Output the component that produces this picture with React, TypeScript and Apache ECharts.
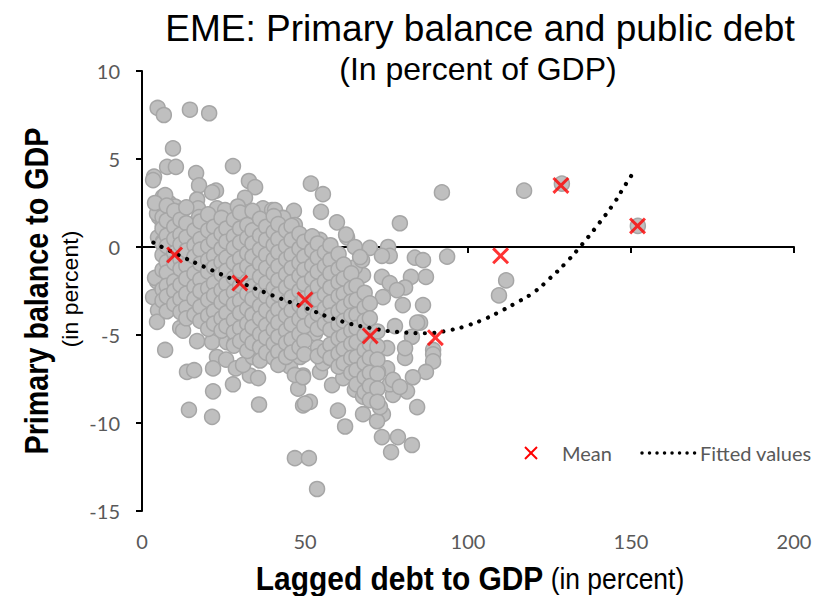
import { useEffect, useRef } from "react";
import * as echarts from "echarts";

// ---- Data ----
const xTickValues = [0, 50, 100, 150, 200];
const yTickValues = [-15, -10, -5, 0, 5, 10];

// Scattered country-year observations (lagged debt, primary balance)
const outlierObs: [number, number][] = [
  [4.8, 7.9], [6.7, 7.5], [14.7, 7.8], [20.6, 7.6], [9.5, 5.6], [7.7, 4.55], [10.4, 4.55], [3.7, 4.0],
  [16.6, 4.2], [17.5, 3.5], [22.7, 3.2], [27.9, 4.6], [32.8, 3.75], [34.7, 3.4], [31.6, 2.8], [4.3, 2.45],
  [6.4, 2.85], [8.3, 2.5], [10.1, 2.3], [12.6, 2.1], [16.9, 2.7], [17.2, 2.2], [5.2, 1.7], [6.4, 1.25],
  [10.7, 1.4], [14.7, 1.25], [17.5, 1.7], [23, 2.2], [25.5, 2.1], [29.4, 2.3], [31.6, 1.65], [37.1, 2.2],
  [39.9, 2.1], [21.5, 0.85], [23.3, 0.85], [21.5, 3.1],
  [51.8, 3.6], [55.5, 3.0], [54.9, 2.0], [59.8, 1.4], [79.1, 1.35], [92, 3.1], [46.6, 2.05], [40.8, 2.1],
  [43.3, 1.65], [46.9, 1.25], [51.2, 0.5], [54.6, 0.4], [62.9, 0.55], [62.6, 0.7], [65.3, 0], [69.9, -0.05],
  [75.5, 0], [76, -0.5], [73.6, -0.5], [83.7, -0.6], [86.2, -0.75], [87.1, -1.7], [82.5, -1.7], [80.7, -2.3],
  [86.2, -3.3], [80, -3.3], [73.9, -2.85], [73.6, -1.7], [76, -2.05], [67.8, -1.6], [65.3, -1.15],
  [61.3, -1.15], [67.5, -0.75], [66.9, -0.57], [78.2, -2.45],
  [117.2, 3.2], [128.8, 3.6], [152.1, 1.2], [93.6, -0.55], [111.7, -1.9], [109.5, -2.75], [85.3, -4.3],
  [89.3, -5.85],
  [84.4, -4.3], [77.6, -4.5], [82.8, -5.1], [80.7, -6.3], [89.3, -6.1], [89.3, -6.5], [87.1, -7.1],
  [83.1, -7.4], [81.3, -8.2], [84.4, -9.1], [77, -8.4], [75.2, -6.9], [76, -7.8], [73.9, -9.5],
  [82.8, -11.25], [78.5, -10.8], [76.4, -11.65], [73.6, -10.8], [72.1, -9.9], [67.8, -9.5], [62.3, -10.2],
  [60.1, -9.3], [53.7, -13.75], [46.9, -12], [51.2, -12], [51.5, -8.8], [49.4, -9.0], [47.9, -8.05],
  [58.3, -7.85], [61.7, -7.45], [63.8, -6.8], [60.1, -6.25], [45.4, -6.8], [49.4, -7.3], [65.3, -8.1],
  [67.8, -8.5], [70.9, -8.7], [73, -9.1], [67.5, -7.45], [69, -6.6], [70.6, -6.0], [72.4, -7.1],
  [77, -7.55], [79.1, -7.95], [75.2, -5.75], [80.7, -5.75], [59.8, -5.2], [54.6, -6.1], [57, -6.4],
  [48.5, -6.25], [53.1, -4.9], [46.9, -7.27], [49.4, -7.4], [50, -8.9], [54.6, -7.1], [55.5, -6.6],
  [57.7, -6.3], [60.7, -6.3], [63.2, -6.8], [54, -5.7],
  [3.4, -2.85], [4.9, -3.6], [4.6, -4.25], [7.1, -5.85], [11.7, -4.6], [12.6, -4.75], [16.9, -5.35],
  [21.5, -5.4], [23, -6.25], [25.8, -6.4], [21.8, -6.9], [13.8, -7.1], [16, -7.0], [21.8, -8.2],
  [27.9, -7.8], [28.8, -6.9], [14.4, -9.25], [21.5, -9.65], [35.9, -8.95], [33.1, -7.3], [35.6, -7.45],
  [31, -6.7], [26, -5.4], [28.5, -5.45], [34, -6.25],
  [4.6, -1.95], [4.0, -1.75], [4.9, 0.55], [6.4, 0.3], [4.6, 1.9], [7.1, 2.95], [4, 2.5], [3.4, 3.8],
  [16, -3.7],
];

// Dense core of the cloud, by debt column: [debt, balances]
const coreColumns: [number, number[]][] = [
  [6.3, [1.7, 1.05, 0.2, -0.45, -1.3, -2.4, -3.05]],
  [7.6, [2.35, 1.5, 0.65, 0.05, -0.85, -1.45, -2.2, -2.8, -3.65]],
  [9.9, [2.05, 1.15, 0.45, -0.35, -0.9, -1.95, -2.5, -3.25]],
  [11.8, [1.55, 0.7, 0.15, -0.7, -1.25, -2.15, -2.95, -3.7]],
  [13.6, [2.25, 1.35, 0.55, -0.2, -1.05, -1.8, -2.65, -3.45, -4.05]],
  [16.1, [0.95, 0.1, -0.55, -1.5, -2.25, -2.95, -3.85]],
  [17.9, [1.45, 0.45, -0.15, -0.95, -1.85, -2.5, -3.4, -4.2]],
  [20.3, [1.85, 0.95, 0.05, -0.75, -1.4, -2.35, -3.0, -3.9, -4.65]],
  [22.1, [1.15, 0.35, -0.5, -1.15, -2.05, -2.75, -3.65, -4.35]],
  [24.4, [1.65, 0.75, -0.1, -0.85, -1.55, -2.45, -3.15, -4.05, -4.75]],
  [25.9, [1.05, 0.3, -0.6, -1.35, -2.1, -2.85, -3.75, -4.5]],
  [28.2, [1.55, 0.6, -0.05, -0.9, -1.75, -2.55, -3.25, -4.15, -4.85, -5.6]],
  [30.1, [1.95, 1.05, 0.25, -0.65, -1.35, -2.2, -3.05, -3.75, -4.6, -5.35]],
  [32.3, [1.25, 0.5, -0.35, -1.1, -1.95, -2.65, -3.5, -4.35, -5.05, -5.9]],
  [33.9, [2.05, 0.95, 0.2, -0.55, -1.45, -2.25, -2.95, -3.85, -4.55, -5.45]],
  [36.2, [1.6, 0.65, -0.15, -0.95, -1.7, -2.5, -3.35, -4.05, -4.95, -5.7, -6.45]],
  [38.1, [1.15, 0.4, -0.45, -1.2, -2.05, -2.8, -3.6, -4.45, -5.15, -6.0]],
  [40.4, [1.75, 0.85, 0.1, -0.7, -1.5, -2.35, -3.1, -3.95, -4.7, -5.5, -6.3]],
  [41.8, [1.3, 0.45, -0.3, -1.1, -1.9, -2.7, -3.55, -4.3, -5.1, -5.95, -6.7]],
  [44.2, [0.95, 0.05, -0.7, -1.55, -2.3, -3.15, -3.9, -4.75, -5.45, -6.25]],
  [45.9, [1.2, 0.4, -0.45, -1.2, -2.0, -2.85, -3.6, -4.4, -5.25, -6.0]],
  [48.3, [0.75, -0.1, -0.9, -1.65, -2.5, -3.3, -4.1, -4.95, -5.7]],
  [49.8, [0.3, -0.55, -1.3, -2.1, -2.95, -3.7, -4.5, -5.35, -6.1]],
  [52.2, [0.6, -0.2, -1.05, -1.8, -2.6, -3.45, -4.2]],
  [53.9, [0.2, -0.6, -1.4, -2.25, -3.0, -3.8, -4.65, -6.2]],
  [56.1, [-0.3, -1.1, -1.95, -2.7, -3.5, -4.35, -5.9]],
  [57.8, [0.1, -0.75, -1.5, -2.3, -3.15, -3.9, -4.7, -5.55, -6.3]],
  [60.3, [-0.4, -1.25, -2.0, -2.8, -3.65, -4.4, -5.2, -6.05, -6.8]],
  [61.9, [-1.0, -1.8, -2.65, -3.4, -4.2, -5.05, -5.8, -6.6]],
  [64.2, [-1.5, -2.35, -3.1, -3.9, -4.75, -5.5, -6.3, -7.15]],
  [65.8, [-2.2, -3.0, -3.85, -4.6, -5.4, -6.25, -7.0, -7.8]],
  [68.3, [-2.6, -3.45, -4.2, -5.0, -5.85, -6.6, -7.4, -8.25]],
  [69.9, [-3.2, -4.05, -5.5, -6.3, -7.15, -7.9, -8.7]],
  [72.2, [-4.8, -5.65, -6.4, -7.2, -8.05, -8.8]],
];

// Means by debt bucket
const meanDebt = [10, 30, 50, 70, 90, 110, 128.5, 152];
const meanBalance = [-0.45, -2.05, -3.0, -5.05, -5.15, -0.5, 3.5, 1.2];

// Fitted values
const fitDebt = [3.5, 10, 20, 30, 40, 50, 60, 70, 80, 87, 95, 100, 105, 110, 115, 120, 125, 130, 135, 140, 145, 148, 151.5];
const fitBalance = [0.25, -0.35, -1.2, -2.0, -2.75, -3.45, -4.15, -4.6, -4.85, -4.9, -4.7, -4.45, -4.1, -3.65, -3.15, -2.6, -1.8, -0.9, 0.15, 1.3, 2.55, 3.45, 4.45];

const X_PATH =
  "path://M2.5,0 L10,7.5 L17.5,0 L20,2.5 L12.5,10 L20,17.5 L17.5,20 L10,12.5 L2.5,20 L0,17.5 L7.5,10 L0,2.5 Z";

export default function App() {
  const ref = useRef<HTMLDivElement>(null);

  useEffect(() => {
    if (!ref.current) return;
    const chart = echarts.init(ref.current, undefined, { renderer: "svg" });

    const obs: [number, number][] = [...outlierObs];
    coreColumns.forEach(([x, ys]) => ys.forEach((y) => obs.push([x, y])));
    const means = meanDebt.map((x, i) => [x, meanBalance[i]]);
    const fit = fitDebt.map((x, i) => [x, fitBalance[i]]);

    const labelStyle = { fontFamily: "Lato", fontSize: 20, color: "#595959" };

    chart.setOption({
      animation: false,
      backgroundColor: "#ffffff",
      grid: { left: 142, right: 35, top: 71, bottom: 85, containLabel: false },
      xAxis: [
        {
          type: "value",
          min: xTickValues[0],
          max: xTickValues[xTickValues.length - 1],
          interval: 50,
          position: "bottom",
          axisLine: { show: true, onZero: true, lineStyle: { color: "#000", width: 2 } },
          axisTick: { show: true, length: 6, lineStyle: { color: "#000", width: 2 } },
          axisLabel: { show: false },
          splitLine: { show: false },
        },
        {
          type: "value",
          min: xTickValues[0],
          max: xTickValues[xTickValues.length - 1],
          interval: 50,
          position: "bottom",
          axisLine: { show: false, onZero: false },
          axisTick: { show: false },
          axisLabel: { show: true, margin: 20, ...labelStyle },
          splitLine: { show: false },
        },
      ],
      yAxis: {
        type: "value",
        min: yTickValues[0],
        max: yTickValues[yTickValues.length - 1],
        interval: 5,
        axisLine: { show: true, onZero: false, lineStyle: { color: "#000", width: 2 } },
        axisTick: { show: true, length: 6, lineStyle: { color: "#000", width: 2 } },
        axisLabel: { show: true, margin: 22, ...labelStyle },
        splitLine: { show: false },
      },
      series: [
        {
          name: "Observations",
          type: "scatter",
          data: obs,
          symbol: "circle",
          symbolSize: 15,
          itemStyle: { color: "#bfbfbf", borderColor: "#a6a6a6", borderWidth: 1.5, opacity: 1 },
          silent: true,
          z: 2,
        },
        {
          name: "Fitted values",
          type: "line",
          data: fit,
          smooth: true,
          symbol: "none",
          lineStyle: { color: "#000", width: 4.2, type: [0.01, 9.3], cap: "round" },
          silent: true,
          z: 3,
        },
        {
          name: "Mean",
          type: "scatter",
          data: means,
          symbol: X_PATH,
          symbolSize: 17,
          itemStyle: { color: "#ff0000" },
          silent: true,
          z: 4,
        },
      ],
      graphic: [
        {
          type: "text",
          x: 480,
          y: 28,
          style: {
            text: "EME: Primary balance and public debt",
            fontFamily: "Liberation Sans",
            fontSize: 37,
            fill: "#000",
            align: "center",
            verticalAlign: "middle",
          },
        },
        {
          type: "text",
          x: 478,
          y: 69,
          style: {
            text: "(In percent of GDP)",
            fontFamily: "Liberation Sans",
            fontSize: 32,
            fill: "#000",
            align: "center",
            verticalAlign: "middle",
          },
        },
        {
          type: "text",
          x: 37,
          y: 291,
          rotation: Math.PI / 2,
          scaleX: 0.87,
          style: {
            text: "Primary balance to GDP",
            fontFamily: "Liberation Sans",
            fontWeight: "bold",
            fontSize: 33,
            fill: "#000",
            align: "center",
            verticalAlign: "middle",
          },
        },
        {
          type: "text",
          x: 71,
          y: 289,
          rotation: Math.PI / 2,
          scaleX: 1.05,
          style: {
            text: "(in percent)",
            fontFamily: "Liberation Sans",
            fontSize: 22,
            fill: "#000",
            align: "center",
            verticalAlign: "middle",
          },
        },
        {
          type: "text",
          x: 470,
          y: 578,
          scaleX: 0.88,
          style: {
            text: "{b|Lagged debt to GDP}{n| (in percent)}",
            align: "center",
            verticalAlign: "middle",
            rich: {
              b: { fontFamily: "Liberation Sans", fontWeight: "bold", fontSize: 34, fill: "#000" },
              n: { fontFamily: "Liberation Sans", fontSize: 30, fill: "#000" },
            },
          },
        },
        // Legend
        { type: "line", shape: { x1: 525, y1: 447, x2: 537, y2: 459 }, style: { stroke: "#ff0000", lineWidth: 2 } },
        { type: "line", shape: { x1: 537, y1: 447, x2: 525, y2: 459 }, style: { stroke: "#ff0000", lineWidth: 2 } },
        {
          type: "text",
          x: 562,
          y: 453,
          style: { text: "Mean", fontFamily: "Lato", fontSize: 20, fill: "#595959", align: "left", verticalAlign: "middle" },
        },
        {
          type: "line",
          shape: { x1: 642, y1: 453, x2: 697, y2: 453 },
          style: { stroke: "#000", lineWidth: 3.5, lineDash: [0.01, 7.5], lineCap: "round" },
        },
        {
          type: "text",
          x: 700,
          y: 453,
          style: { text: "Fitted values", fontFamily: "Lato", fontSize: 20, fill: "#595959", align: "left", verticalAlign: "middle" },
        },
      ],
    });

    return () => chart.dispose();
  }, []);

  return (
    <div
      ref={ref}
      style={{ position: "fixed", left: 0, top: 0, width: 829, height: 596, background: "#fff" }}
    />
  );
}
